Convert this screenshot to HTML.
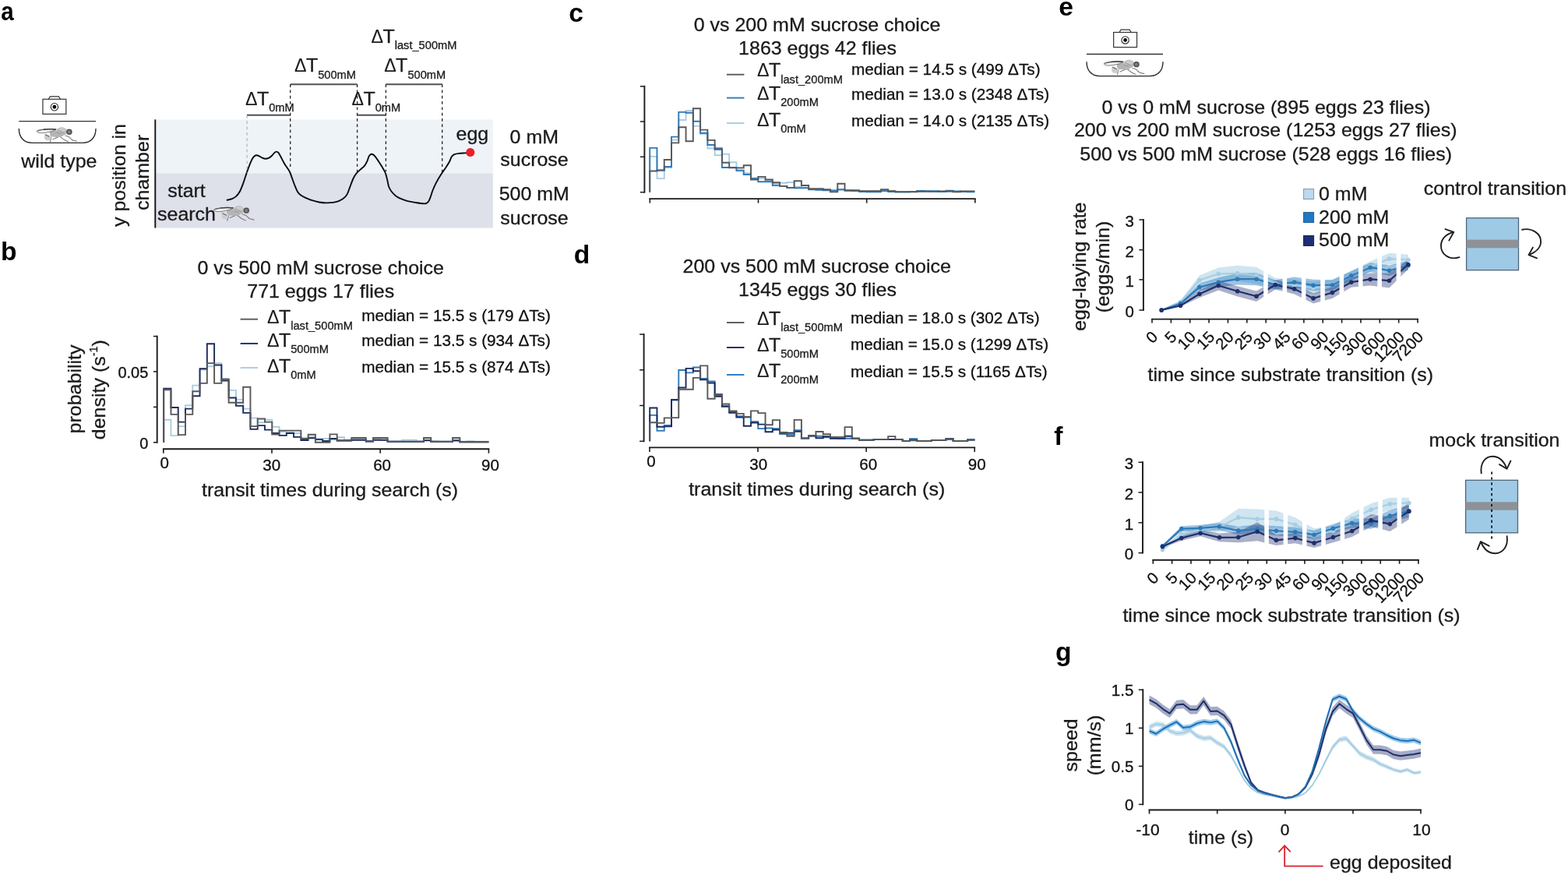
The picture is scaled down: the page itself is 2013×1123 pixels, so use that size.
<!DOCTYPE html>
<html lang="en">
<head>
<meta charset="utf-8">
<title>Figure: transit times, egg-laying rate and speed</title>
<style>
html,body{margin:0;padding:0;background:#fff;}
body{width:2013px;height:1123px;overflow:hidden;}
svg{display:block;font-family:"Liberation Sans", sans-serif;}
</style>
</head>
<body>
<svg width="2013" height="1123" viewBox="0 0 2013 1123">
<rect width="2013" height="1123" fill="#ffffff"/>
<text transform="translate(1.30 26.40) scale(0.88 1)" font-size="33.6" font-weight="bold" fill="#000">a</text>
<text transform="translate(0.90 333.90) scale(1.0 1)" font-size="33.6" font-weight="bold" fill="#000">b</text>
<text transform="translate(730.30 28.00) scale(1.0 1)" font-size="33.6" font-weight="bold" fill="#000">c</text>
<text transform="translate(736.80 337.70) scale(1.0 1)" font-size="33.6" font-weight="bold" fill="#000">d</text>
<text transform="translate(1359.20 19.50) scale(1.0 1)" font-size="33.6" font-weight="bold" fill="#000">e</text>
<text transform="translate(1353.20 570.70) scale(1.0 1)" font-size="33.6" font-weight="bold" fill="#000">f</text>
<text transform="translate(1355.00 847.90) scale(1.0 1)" font-size="33.6" font-weight="bold" fill="#000">g</text>
<rect x="54.95" y="127.30" width="29.90" height="19.10" fill="#fff" stroke="#333" stroke-width="1.2"/>
<path d="M62.30 127.30 L64.40 123.90 L75.40 123.90 L77.50 127.30" stroke="#333" stroke-width="1.2" fill="none"/>
<circle cx="69.90" cy="137.23" r="4.70" fill="#fff" stroke="#2a2a2a" stroke-width="1.1"/>
<circle cx="69.90" cy="137.23" r="2.40" fill="#000"/>
<line x1="24.30" y1="155.60" x2="123.00" y2="155.60" stroke="#333" stroke-width="1.4"/>
<path d="M24.30 164.90 C24.30 175.90 30.30 183.40 41.30 183.40 L106.00 183.40 C117.00 183.40 123.00 175.90 123.00 164.90" stroke="#2a2a2a" stroke-width="1.4" fill="none"/>
<g transform="translate(79.90 168.10) scale(1.0)" opacity="1.0">
<path d="M4 6 L8.7 7.6 L12.7 11.5 L18.7 13.1 M-3.2 7 L2.8 11.5 L8 13.9 M-5 7.6 L-12 10.6 M-13.9 8 L-15.6 14.3" stroke="#7d7d7d" stroke-width="1.1" fill="none" stroke-linejoin="round" stroke-linecap="round"/>
<path d="M-22.5 4.5 C-20 3.5 -16 5 -14.5 7.5 C-13.5 10 -15 12.2 -18.5 12.4 C-21.5 12.4 -23 10.5 -23 8 Z" fill="#cdcdcd"/>
<path d="M-22 4.6 L-16.5 7.4" stroke="#555" stroke-width="1" fill="none"/>
<path d="M-16 0.5 C-11 -1 -6 -1 -2 1 L1 6.5 C-4 8.5 -9 8 -14.5 7 C-16 5 -16.5 2.5 -16 0.5 Z" fill="#b4b4b6"/>
<ellipse cx="-0.6" cy="0.6" rx="6.8" ry="5.5" fill="#b7b7ba"/>
<ellipse cx="0" cy="-1.6" rx="4.6" ry="2.8" fill="#cacacc"/>
<path d="M-7 2 L-1 4 M-4.5 -0.5 L2 2.5" stroke="#8e8e90" stroke-width="0.8" fill="none"/>
<path d="M-7.5 -2.2 C-15 -3.2 -27 -2.6 -32.6 0 C-33.6 1.3 -30 2.6 -27 2.6 C-23.5 2.7 -19 1.9 -17 1.2 C-13 0.6 -9.5 -0.6 -7.5 -2.2 Z" fill="#f1f1f1" stroke="#5f5f5f" stroke-width="0.8"/>
<path d="M-8 -1.9 C-13 -2.6 -19 -2.5 -24 -1.9" fill="none" stroke="#3d3d3d" stroke-width="1.5"/>
<path d="M-24 -1.9 C-27 -1.6 -30 -1 -32 -0.2" fill="none" stroke="#5a5a5a" stroke-width="1.1"/>
<circle cx="9.1" cy="1.2" r="3.9" fill="#9a9a9e"/>
<circle cx="8.9" cy="1.1" r="2.7" fill="none" stroke="#4c4c50" stroke-width="1.5"/>
<circle cx="8.9" cy="1.1" r="1.4" fill="#7a7a7e"/>
</g>
<text transform="translate(75.90 214.80) scale(1 0.99)" font-size="25" text-anchor="middle" fill="#1a1a1a" stroke="#1a1a1a" stroke-width="0.3">wild type</text>
<rect x="200" y="153.4" width="432.8" height="69.1" fill="#eef3f8"/>
<rect x="200" y="222.5" width="432.8" height="70" fill="#dee0ea"/>
<line x1="199.30" y1="153.40" x2="199.30" y2="292.50" stroke="#111" stroke-width="1.9"/>
<path d="M291.63 256.76 C292.67 256.49 295.95 255.97 297.89 255.15 C299.83 254.33 301.62 253.36 303.26 251.84 C304.90 250.32 306.24 248.79 307.73 246.03 C309.22 243.27 310.71 239.32 312.20 235.30 C313.69 231.27 315.33 225.75 316.67 221.88 C318.01 218.00 319.06 215.02 320.25 212.04 C321.44 209.06 322.78 205.93 323.83 203.99 C324.87 202.05 325.54 201.20 326.51 200.41 C327.48 199.62 328.60 199.25 329.64 199.25 C330.69 199.25 331.65 199.87 332.77 200.41 C333.89 200.95 335.01 201.90 336.35 202.47 C337.69 203.04 339.33 203.78 340.82 203.81 C342.31 203.84 343.95 203.29 345.30 202.65 C346.64 202.01 347.68 201.08 348.87 199.96 C350.07 198.85 351.48 196.83 352.45 195.94 C353.42 195.04 353.87 194.60 354.69 194.60 C355.51 194.60 356.40 194.82 357.37 195.94 C358.34 197.06 359.23 199.00 360.50 201.31 C361.77 203.62 363.48 207.27 364.97 209.80 C366.46 212.34 368.25 214.65 369.45 216.51 C370.64 218.38 371.23 219.05 372.13 220.98 C373.02 222.92 373.77 225.31 374.81 228.14 C375.86 230.97 377.20 235.00 378.39 237.98 C379.58 240.96 380.78 244.02 381.97 246.03 C383.16 248.04 383.91 248.79 385.55 250.05 C387.19 251.32 389.27 252.44 391.81 253.63 C394.34 254.82 397.77 256.24 400.75 257.21 C403.73 258.18 406.71 258.92 409.70 259.45 C412.68 259.97 415.66 260.27 418.64 260.34 C421.62 260.41 424.90 260.27 427.58 259.89 C430.27 259.52 432.50 259.00 434.74 258.10 C436.98 257.21 439.21 255.94 441.00 254.53 C442.79 253.11 444.13 251.92 445.47 249.61 C446.82 247.30 447.70 244.09 449.05 240.66 C450.40 237.23 452.08 232.16 453.58 229.03 C455.08 225.90 456.41 223.89 458.05 221.88 C459.69 219.87 461.78 218.45 463.42 216.96 C465.06 215.47 466.55 214.65 467.89 212.93 C469.23 211.22 470.50 208.76 471.47 206.67 C472.44 204.59 472.81 201.90 473.70 200.41 C474.60 198.92 475.72 197.88 476.83 197.73 C477.95 197.58 478.92 198.03 480.41 199.52 C481.90 201.01 484.14 204.29 485.78 206.67 C487.42 209.06 488.76 211.29 490.25 213.83 C491.74 216.36 493.53 218.90 494.72 221.88 C495.92 224.86 496.66 228.74 497.41 231.72 C498.15 234.70 498.30 237.38 499.19 239.77 C500.09 242.15 501.28 244.09 502.77 246.03 C504.26 247.97 506.20 249.90 508.14 251.40 C510.08 252.89 511.87 253.86 514.40 254.97 C516.94 256.09 520.36 257.31 523.35 258.10 C526.33 258.89 529.31 259.22 532.29 259.71 C535.27 260.21 538.85 260.80 541.23 261.06 C543.62 261.31 545.11 261.65 546.60 261.23 C548.09 260.82 549.14 260.04 550.18 258.55 C551.22 257.06 551.97 254.68 552.86 252.29 C553.76 249.90 554.35 247.22 555.55 244.24 C556.74 241.26 558.23 237.83 560.02 234.40 C561.81 230.97 564.19 226.95 566.28 223.67 C568.37 220.39 570.75 217.41 572.54 214.72 C574.33 212.04 575.82 209.80 577.01 207.57 C578.21 205.33 578.65 202.87 579.70 201.31 C580.74 199.74 581.63 198.92 583.27 198.18 C584.91 197.43 587.15 197.13 589.53 196.83 C591.92 196.54 595.50 196.54 597.58 196.39 C599.67 196.24 601.31 196.01 602.06 195.94" stroke="#0a0a0a" stroke-width="1.9" fill="none" stroke-linecap="round"/>
<circle cx="603.8" cy="195.5" r="5.5" fill="#ea1f27"/>
<line x1="317.00" y1="147.70" x2="372.80" y2="147.70" stroke="#505050" stroke-width="1.9"/>
<line x1="372.80" y1="108.20" x2="458.50" y2="108.20" stroke="#505050" stroke-width="1.9"/>
<line x1="458.50" y1="147.70" x2="495.30" y2="147.70" stroke="#505050" stroke-width="1.9"/>
<line x1="495.30" y1="108.20" x2="567.90" y2="108.20" stroke="#505050" stroke-width="1.9"/>
<line x1="317.10" y1="148.00" x2="317.10" y2="222.00" stroke="#a8adb3" stroke-width="1.1" stroke-dasharray="3.7 3.6"/>
<line x1="372.70" y1="108.20" x2="372.70" y2="217.00" stroke="#222" stroke-width="1.3" stroke-dasharray="3.7 3.6"/>
<line x1="458.60" y1="108.20" x2="458.60" y2="220.00" stroke="#222" stroke-width="1.3" stroke-dasharray="3.7 3.6"/>
<line x1="495.40" y1="108.20" x2="495.40" y2="220.00" stroke="#222" stroke-width="1.3" stroke-dasharray="3.7 3.6"/>
<line x1="567.70" y1="108.20" x2="567.70" y2="221.00" stroke="#222" stroke-width="1.3" stroke-dasharray="3.7 3.6"/>
<text transform="translate(476.50 54.70) scale(1 0.99)" font-size="25" fill="#1a1a1a" stroke="#1a1a1a" stroke-width="0.3"><tspan font-size="23.25" stroke-width="0.05">Δ</tspan><tspan dx="-0.6">T</tspan><tspan font-size="14.65" dy="8.2">last_500mM</tspan></text>
<text transform="translate(378.00 92.40) scale(1 0.99)" font-size="25" fill="#1a1a1a" stroke="#1a1a1a" stroke-width="0.3"><tspan font-size="23.25" stroke-width="0.05">Δ</tspan><tspan dx="-0.6">T</tspan><tspan font-size="14.65" dy="8.2">500mM</tspan></text>
<text transform="translate(493.20 92.40) scale(1 0.99)" font-size="25" fill="#1a1a1a" stroke="#1a1a1a" stroke-width="0.3"><tspan font-size="23.25" stroke-width="0.05">Δ</tspan><tspan dx="-0.6">T</tspan><tspan font-size="14.65" dy="8.2">500mM</tspan></text>
<text transform="translate(315.00 134.80) scale(1 0.99)" font-size="25" fill="#1a1a1a" stroke="#1a1a1a" stroke-width="0.3"><tspan font-size="23.25" stroke-width="0.05">Δ</tspan><tspan dx="-0.6">T</tspan><tspan font-size="14.65" dy="8.2">0mM</tspan></text>
<text transform="translate(451.50 134.80) scale(1 0.99)" font-size="25" fill="#1a1a1a" stroke="#1a1a1a" stroke-width="0.3"><tspan font-size="23.25" stroke-width="0.05">Δ</tspan><tspan dx="-0.6">T</tspan><tspan font-size="14.65" dy="8.2">0mM</tspan></text>
<text transform="translate(160.60 291.00) rotate(-90) scale(1 0.99)" font-size="25" fill="#1a1a1a" stroke="#1a1a1a" stroke-width="0.3">y position in</text>
<text transform="translate(190.50 270.00) rotate(-90) scale(1 0.99)" font-size="25" fill="#1a1a1a" stroke="#1a1a1a" stroke-width="0.3">chamber</text>
<text transform="translate(215.20 252.60) scale(1 0.99)" font-size="25" fill="#1a1a1a" stroke="#1a1a1a" stroke-width="0.3">start</text>
<text transform="translate(202.00 282.80) scale(1 0.99)" font-size="25" fill="#1a1a1a" stroke="#1a1a1a" stroke-width="0.3">search</text>
<g transform="translate(307.30 269.00) scale(1.0)" opacity="1.0">
<path d="M4 6 L8.7 7.6 L12.7 11.5 L18.7 13.1 M-3.2 7 L2.8 11.5 L8 13.9 M-5 7.6 L-12 10.6 M-13.9 8 L-15.6 14.3" stroke="#7d7d7d" stroke-width="1.1" fill="none" stroke-linejoin="round" stroke-linecap="round"/>
<path d="M-22.5 4.5 C-20 3.5 -16 5 -14.5 7.5 C-13.5 10 -15 12.2 -18.5 12.4 C-21.5 12.4 -23 10.5 -23 8 Z" fill="#cdcdcd"/>
<path d="M-22 4.6 L-16.5 7.4" stroke="#555" stroke-width="1" fill="none"/>
<path d="M-16 0.5 C-11 -1 -6 -1 -2 1 L1 6.5 C-4 8.5 -9 8 -14.5 7 C-16 5 -16.5 2.5 -16 0.5 Z" fill="#b4b4b6"/>
<ellipse cx="-0.6" cy="0.6" rx="6.8" ry="5.5" fill="#b7b7ba"/>
<ellipse cx="0" cy="-1.6" rx="4.6" ry="2.8" fill="#cacacc"/>
<path d="M-7 2 L-1 4 M-4.5 -0.5 L2 2.5" stroke="#8e8e90" stroke-width="0.8" fill="none"/>
<path d="M-7.5 -2.2 C-15 -3.2 -27 -2.6 -32.6 0 C-33.6 1.3 -30 2.6 -27 2.6 C-23.5 2.7 -19 1.9 -17 1.2 C-13 0.6 -9.5 -0.6 -7.5 -2.2 Z" fill="#f1f1f1" stroke="#5f5f5f" stroke-width="0.8"/>
<path d="M-8 -1.9 C-13 -2.6 -19 -2.5 -24 -1.9" fill="none" stroke="#3d3d3d" stroke-width="1.5"/>
<path d="M-24 -1.9 C-27 -1.6 -30 -1 -32 -0.2" fill="none" stroke="#5a5a5a" stroke-width="1.1"/>
<circle cx="9.1" cy="1.2" r="3.9" fill="#9a9a9e"/>
<circle cx="8.9" cy="1.1" r="2.7" fill="none" stroke="#4c4c50" stroke-width="1.5"/>
<circle cx="8.9" cy="1.1" r="1.4" fill="#7a7a7e"/>
</g>
<text transform="translate(585.50 179.90) scale(1 0.99)" font-size="25" fill="#1a1a1a" stroke="#1a1a1a" stroke-width="0.3">egg</text>
<text transform="translate(685.80 183.60) scale(1 0.99)" font-size="25" text-anchor="middle" fill="#1a1a1a" stroke="#1a1a1a" stroke-width="0.3">0 mM</text>
<text transform="translate(686.00 213.30) scale(1 0.99)" font-size="25" text-anchor="middle" fill="#1a1a1a" stroke="#1a1a1a" stroke-width="0.3">sucrose</text>
<text transform="translate(685.80 257.20) scale(1 0.99)" font-size="25" text-anchor="middle" fill="#1a1a1a" stroke="#1a1a1a" stroke-width="0.3">500 mM</text>
<text transform="translate(686.00 287.50) scale(1 0.99)" font-size="25" text-anchor="middle" fill="#1a1a1a" stroke="#1a1a1a" stroke-width="0.3">sucrose</text>
<text transform="translate(411.70 351.60) scale(1 0.99)" font-size="25" text-anchor="middle" fill="#1a1a1a" stroke="#1a1a1a" stroke-width="0.3">0 vs 500 mM sucrose choice</text>
<text transform="translate(411.70 381.80) scale(1 0.99)" font-size="25" text-anchor="middle" fill="#1a1a1a" stroke="#1a1a1a" stroke-width="0.3">771 eggs 17 flies</text>
<path d="M210.20 567.80 V538.82 H219.47 V559.11 H228.74 V547.10 H238.01 V520.19 H247.28 V494.66 H256.56 V474.65 H265.83 V470.23 H275.10 V466.09 H284.37 V487.07 H293.64 V500.87 H302.91 V512.87 H312.18 V524.60 H321.45 V536.47 H330.72 V542.27 H340.00 V538.82 H349.27 V547.79 H358.54 V554.00 H367.81 V554.69 H377.08 V556.07 H386.35 V562.28 H395.62 V560.80 H404.89 V563.00 H414.16 V563.00 H423.44 V564.40 H432.71 V561.30 H441.98 V564.80 H451.25 V563.80 H460.52 V563.80 H469.79 V565.80 H479.06 V563.80 H488.33 V564.80 H497.60 V566.30 H506.88 V566.30 H516.15 V564.80 H525.42 V564.80 H534.69 V566.30 H543.96 V564.80 H553.23 V566.30 H562.50 V566.80 H571.77 V566.80 H581.04 V566.30 H590.32 V566.80 H599.59 V566.30 H608.86 V566.80 H618.13 V566.80 H627.40" stroke="#a9cde3" stroke-width="1.9" fill="none" stroke-linejoin="miter"/>
<path d="M210.20 567.80 V498.80 H219.47 V522.95 H228.74 V541.58 H238.01 V524.60 H247.28 V508.18 H256.56 V473.27 H265.83 V441.25 H275.10 V468.43 H284.37 V488.45 H293.64 V510.53 H302.91 V520.88 H312.18 V529.85 H321.45 V550.83 H330.72 V546.13 H340.00 V551.65 H349.27 V556.07 H358.54 V558.83 H367.81 V556.07 H377.08 V560.90 H386.35 V565.04 H395.62 V562.30 H404.89 V564.10 H414.16 V566.00 H423.44 V563.00 H432.71 V565.30 H441.98 V565.30 H451.25 V564.80 H460.52 V564.80 H469.79 V566.30 H479.06 V564.80 H488.33 V564.80 H497.60 V566.60 H506.88 V566.80 H516.15 V566.80 H525.42 V566.80 H534.69 V566.80 H543.96 V565.30 H553.23 V566.80 H562.50 V566.80 H571.77 V566.80 H581.04 V565.30 H590.32 V567.30 H599.59 V567.30 H608.86 V567.30 H618.13 V567.30 H627.40" stroke="#1c2a5e" stroke-width="1.9" fill="none" stroke-linejoin="miter"/>
<path d="M210.20 567.80 V500.18 H219.47 V531.92 H228.74 V558.14 H238.01 V531.92 H247.28 V502.25 H256.56 V491.90 H265.83 V466.09 H275.10 V491.90 H284.37 V486.38 H293.64 V516.74 H302.91 V516.74 H312.18 V496.73 H321.45 V547.10 H330.72 V537.44 H340.00 V541.58 H349.27 V557.45 H358.54 V552.62 H367.81 V552.62 H377.08 V552.62 H386.35 V562.97 H395.62 V557.80 H404.89 V567.80 H414.16 V567.80 H423.44 V557.40 H432.71 V565.80 H441.98 V565.80 H451.25 V562.00 H460.52 V562.00 H469.79 V566.80 H479.06 V562.00 H488.33 V562.00 H497.60 V567.00 H506.88 V567.00 H516.15 V567.00 H525.42 V567.00 H534.69 V567.00 H543.96 V562.00 H553.23 V567.00 H562.50 V567.00 H571.77 V567.00 H581.04 V562.00 H590.32 V567.30 H599.59 V567.30 H608.86 V567.30 H618.13 V567.30 H627.40" stroke="#585858" stroke-width="1.9" fill="none" stroke-linejoin="miter"/>
<line x1="201.70" y1="430.65" x2="201.70" y2="568.75" stroke="#1a1a1a" stroke-width="1.9"/>
<line x1="196.90" y1="431.60" x2="201.70" y2="431.60" stroke="#1a1a1a" stroke-width="1.5"/>
<line x1="196.90" y1="476.90" x2="201.70" y2="476.90" stroke="#1a1a1a" stroke-width="1.5"/>
<line x1="196.90" y1="522.40" x2="201.70" y2="522.40" stroke="#1a1a1a" stroke-width="1.5"/>
<line x1="196.90" y1="567.80" x2="201.70" y2="567.80" stroke="#1a1a1a" stroke-width="1.5"/>
<line x1="208.85" y1="576.20" x2="628.35" y2="576.20" stroke="#1a1a1a" stroke-width="1.9"/>
<line x1="209.80" y1="576.20" x2="209.80" y2="581.70" stroke="#1a1a1a" stroke-width="1.6"/>
<line x1="349.00" y1="576.20" x2="349.00" y2="581.70" stroke="#1a1a1a" stroke-width="1.6"/>
<line x1="488.20" y1="576.20" x2="488.20" y2="581.70" stroke="#1a1a1a" stroke-width="1.6"/>
<line x1="627.40" y1="576.20" x2="627.40" y2="581.70" stroke="#1a1a1a" stroke-width="1.6"/>
<text transform="translate(190.30 485.00) scale(1 0.99)" font-size="20.0" text-anchor="end" fill="#111" stroke="#111" stroke-width="0.3">0.05</text>
<text transform="translate(190.30 575.90) scale(1 0.99)" font-size="20.0" text-anchor="end" fill="#111" stroke="#111" stroke-width="0.3">0</text>
<text transform="translate(211.20 600.80) scale(1 0.99)" font-size="20.6" text-anchor="middle" fill="#111" stroke="#111" stroke-width="0.3">0</text>
<text transform="translate(348.80 604.30) scale(1 0.99)" font-size="20.6" text-anchor="middle" fill="#111" stroke="#111" stroke-width="0.3">30</text>
<text transform="translate(490.60 604.30) scale(1 0.99)" font-size="20.6" text-anchor="middle" fill="#111" stroke="#111" stroke-width="0.3">60</text>
<text transform="translate(629.40 604.30) scale(1 0.99)" font-size="20.6" text-anchor="middle" fill="#111" stroke="#111" stroke-width="0.3">90</text>
<text transform="translate(423.60 637.20) scale(1 0.99)" font-size="25" text-anchor="middle" fill="#1a1a1a" stroke="#1a1a1a" stroke-width="0.3">transit times during search (s)</text>
<text transform="translate(103.60 556.40) rotate(-90) scale(1 0.99)" font-size="25" fill="#1a1a1a" stroke="#1a1a1a" stroke-width="0.3">probability</text>
<text transform="translate(134.7 564.2) rotate(-90) scale(1 0.99)" font-size="25" fill="#1a1a1a" stroke="#1a1a1a" stroke-width="0.3">density (s<tspan font-size="14.5" dy="-10">-1</tspan><tspan dy="10">)</tspan></text>
<line x1="308.60" y1="409.70" x2="331.00" y2="409.70" stroke="#585858" stroke-width="1.9"/>
<text transform="translate(343.00 415.20) scale(1 0.99)" font-size="25" fill="#1a1a1a" stroke="#1a1a1a" stroke-width="0.3"><tspan font-size="23.25" stroke-width="0.05">Δ</tspan><tspan dx="-0.6">T</tspan><tspan font-size="14.65" dy="8.2">last_500mM</tspan></text>
<text transform="translate(464.30 411.50) scale(1 0.99)" font-size="20.75" fill="#111" stroke="#111" stroke-width="0.3">median = 15.5 s (179 ΔTs)</text>
<line x1="308.60" y1="440.90" x2="331.00" y2="440.90" stroke="#1c2a5e" stroke-width="1.9"/>
<text transform="translate(343.00 444.60) scale(1 0.99)" font-size="25" fill="#1a1a1a" stroke="#1a1a1a" stroke-width="0.3"><tspan font-size="23.25" stroke-width="0.05">Δ</tspan><tspan dx="-0.6">T</tspan><tspan font-size="14.65" dy="8.2">500mM</tspan></text>
<text transform="translate(464.30 443.90) scale(1 0.99)" font-size="20.75" fill="#111" stroke="#111" stroke-width="0.3">median = 13.5 s (934 ΔTs)</text>
<line x1="308.60" y1="472.00" x2="331.00" y2="472.00" stroke="#a9cde3" stroke-width="1.9"/>
<text transform="translate(343.00 478.30) scale(1 0.99)" font-size="25" fill="#1a1a1a" stroke="#1a1a1a" stroke-width="0.3"><tspan font-size="23.25" stroke-width="0.05">Δ</tspan><tspan dx="-0.6">T</tspan><tspan font-size="14.65" dy="8.2">0mM</tspan></text>
<text transform="translate(464.30 477.60) scale(1 0.99)" font-size="20.75" fill="#111" stroke="#111" stroke-width="0.3">median = 15.5 s (874 ΔTs)</text>
<text transform="translate(1049.00 40.00) scale(1 0.99)" font-size="25" text-anchor="middle" fill="#1a1a1a" stroke="#1a1a1a" stroke-width="0.3">0 vs 200 mM sucrose choice</text>
<text transform="translate(1049.50 69.50) scale(1 0.99)" font-size="25" text-anchor="middle" fill="#1a1a1a" stroke="#1a1a1a" stroke-width="0.3">1863 eggs 42 flies</text>
<path d="M834.20 246.70 V200.88 H843.47 V229.17 H852.74 V215.37 H862.01 V179.49 H871.28 V153.96 H880.56 V141.95 H889.83 V161.83 H899.10 V169.83 H908.37 V190.53 H917.64 V199.23 H926.91 V197.71 H936.18 V208.20 H945.45 V217.44 H954.72 V222.27 H964.00 V228.48 H973.27 V229.17 H982.54 V231.93 H991.81 V236.07 H1001.08 V234.69 H1010.35 V234.00 H1019.62 V239.70 H1028.89 V240.70 H1038.16 V242.90 H1047.44 V242.90 H1056.71 V243.70 H1065.98 V243.70 H1075.25 V243.50 H1084.52 V244.10 H1093.79 V244.70 H1103.06 V245.20 H1112.33 V245.50 H1121.60 V245.50 H1130.88 V244.70 H1140.15 V244.70 H1149.42 V245.90 H1158.69 V245.90 H1167.96 V245.90 H1177.23 V245.70 H1186.50 V245.70 H1195.77 V245.70 H1205.04 V245.70 H1214.32 V245.70 H1223.59 V245.90 H1232.86 V245.70 H1242.13 V245.70 H1251.40" stroke="#a9cde3" stroke-width="1.9" fill="none" stroke-linejoin="miter"/>
<path d="M834.20 246.70 V189.84 H843.47 V218.82 H852.74 V213.99 H862.01 V175.63 H871.28 V143.88 H880.56 V144.71 H889.83 V155.75 H899.10 V171.21 H908.37 V185.98 H917.64 V190.26 H926.91 V214.96 H936.18 V214.96 H945.45 V219.10 H954.72 V223.93 H964.00 V229.17 H973.27 V233.31 H982.54 V233.31 H991.81 V238.14 H1001.08 V238.83 H1010.35 V240.90 H1019.62 V241.20 H1028.89 V241.20 H1038.16 V243.30 H1047.44 V243.70 H1056.71 V244.30 H1065.98 V244.70 H1075.25 V243.30 H1084.52 V244.70 H1093.79 V245.10 H1103.06 V246.10 H1112.33 V246.30 H1121.60 V246.30 H1130.88 V245.10 H1140.15 V246.10 H1149.42 V246.50 H1158.69 V246.50 H1167.96 V246.30 H1177.23 V244.90 H1186.50 V245.10 H1195.77 V245.30 H1205.04 V246.10 H1214.32 V244.70 H1223.59 V245.50 H1232.86 V246.10 H1242.13 V246.30 H1251.40" stroke="#2d7aba" stroke-width="1.9" fill="none" stroke-linejoin="miter"/>
<path d="M834.20 246.70 V219.51 H843.47 V218.41 H852.74 V205.02 H862.01 V183.35 H871.28 V163.21 H880.56 V181.28 H889.83 V139.19 H899.10 V166.66 H908.37 V179.90 H917.64 V191.91 H926.91 V208.75 H936.18 V215.37 H945.45 V215.37 H954.72 V212.20 H964.00 V230.55 H973.27 V226.83 H982.54 V230.55 H991.81 V234.28 H1001.08 V238.83 H1010.35 V240.90 H1019.62 V232.20 H1028.89 V238.00 H1038.16 V242.20 H1047.44 V242.20 H1056.71 V243.20 H1065.98 V246.40 H1075.25 V235.70 H1084.52 V244.20 H1093.79 V244.20 H1103.06 V245.20 H1112.33 V245.20 H1121.60 V245.20 H1130.88 V243.20 H1140.15 V245.20 H1149.42 V246.10 H1158.69 V246.10 H1167.96 V246.10 H1177.23 V245.70 H1186.50 V245.70 H1195.77 V245.90 H1205.04 V245.50 H1214.32 V245.50 H1223.59 V246.40 H1232.86 V245.40 H1242.13 V245.40 H1251.40" stroke="#585858" stroke-width="1.9" fill="none" stroke-linejoin="miter"/>
<line x1="827.40" y1="109.85" x2="827.40" y2="247.65" stroke="#1a1a1a" stroke-width="1.9"/>
<line x1="821.90" y1="110.80" x2="827.40" y2="110.80" stroke="#1a1a1a" stroke-width="1.5"/>
<line x1="821.90" y1="156.00" x2="827.40" y2="156.00" stroke="#1a1a1a" stroke-width="1.5"/>
<line x1="821.90" y1="201.30" x2="827.40" y2="201.30" stroke="#1a1a1a" stroke-width="1.5"/>
<line x1="821.90" y1="246.70" x2="827.40" y2="246.70" stroke="#1a1a1a" stroke-width="1.5"/>
<line x1="833.35" y1="255.10" x2="1252.75" y2="255.10" stroke="#1a1a1a" stroke-width="1.9"/>
<line x1="834.30" y1="255.10" x2="834.30" y2="260.60" stroke="#1a1a1a" stroke-width="1.6"/>
<line x1="973.50" y1="255.10" x2="973.50" y2="260.60" stroke="#1a1a1a" stroke-width="1.6"/>
<line x1="1112.70" y1="255.10" x2="1112.70" y2="260.60" stroke="#1a1a1a" stroke-width="1.6"/>
<line x1="1251.80" y1="255.10" x2="1251.80" y2="260.60" stroke="#1a1a1a" stroke-width="1.6"/>
<line x1="933.00" y1="95.70" x2="955.40" y2="95.70" stroke="#585858" stroke-width="1.9"/>
<text transform="translate(972.00 98.40) scale(1 0.99)" font-size="25" fill="#1a1a1a" stroke="#1a1a1a" stroke-width="0.3"><tspan font-size="23.25" stroke-width="0.05">Δ</tspan><tspan dx="-0.6">T</tspan><tspan font-size="14.65" dy="8.2">last_200mM</tspan></text>
<text transform="translate(1093.00 95.70) scale(1 0.99)" font-size="20.75" fill="#111" stroke="#111" stroke-width="0.3">median = 14.5 s (499 ΔTs)</text>
<line x1="933.00" y1="125.60" x2="955.40" y2="125.60" stroke="#2d7aba" stroke-width="1.9"/>
<text transform="translate(972.00 128.00) scale(1 0.99)" font-size="25" fill="#1a1a1a" stroke="#1a1a1a" stroke-width="0.3"><tspan font-size="23.25" stroke-width="0.05">Δ</tspan><tspan dx="-0.6">T</tspan><tspan font-size="14.65" dy="8.2">200mM</tspan></text>
<text transform="translate(1093.00 128.00) scale(1 0.99)" font-size="20.75" fill="#111" stroke="#111" stroke-width="0.3">median = 13.0 s (2348 ΔTs)</text>
<line x1="933.00" y1="158.00" x2="955.40" y2="158.00" stroke="#a9cde3" stroke-width="1.9"/>
<text transform="translate(972.00 161.60) scale(1 0.99)" font-size="25" fill="#1a1a1a" stroke="#1a1a1a" stroke-width="0.3"><tspan font-size="23.25" stroke-width="0.05">Δ</tspan><tspan dx="-0.6">T</tspan><tspan font-size="14.65" dy="8.2">0mM</tspan></text>
<text transform="translate(1093.00 161.60) scale(1 0.99)" font-size="20.75" fill="#111" stroke="#111" stroke-width="0.3">median = 14.0 s (2135 ΔTs)</text>
<text transform="translate(1048.70 349.80) scale(1 0.99)" font-size="25" text-anchor="middle" fill="#1a1a1a" stroke="#1a1a1a" stroke-width="0.3">200 vs 500 mM sucrose choice</text>
<text transform="translate(1049.50 379.70) scale(1 0.99)" font-size="25" text-anchor="middle" fill="#1a1a1a" stroke="#1a1a1a" stroke-width="0.3">1345 eggs 30 flies</text>
<path d="M834.20 566.30 V532.90 H843.47 V552.91 H852.74 V546.01 H862.01 V513.58 H871.28 V474.94 H880.56 V478.39 H889.83 V471.49 H899.10 V485.98 H908.37 V489.43 H917.64 V507.37 H926.91 V520.48 H936.18 V528.07 H945.45 V534.28 H954.72 V535.66 H964.00 V541.18 H973.27 V550.15 H982.54 V549.46 H991.81 V550.15 H1001.08 V557.05 H1010.35 V557.74 H1019.62 V552.30 H1028.89 V562.60 H1038.16 V559.80 H1047.44 V559.80 H1056.71 V561.30 H1065.98 V562.30 H1075.25 V562.80 H1084.52 V562.80 H1093.79 V562.80 H1103.06 V564.50 H1112.33 V564.50 H1121.60 V563.90 H1130.88 V563.90 H1140.15 V563.90 H1149.42 V563.90 H1158.69 V565.90 H1167.96 V563.30 H1177.23 V565.90 H1186.50 V565.90 H1195.77 V565.10 H1205.04 V565.10 H1214.32 V563.30 H1223.59 V565.90 H1232.86 V565.90 H1242.13 V564.50 H1251.40" stroke="#2d7aba" stroke-width="1.9" fill="none" stroke-linejoin="miter"/>
<path d="M834.20 566.30 V523.52 H843.47 V547.81 H852.74 V547.39 H862.01 V512.89 H871.28 V497.43 H880.56 V472.87 H889.83 V476.32 H899.10 V487.36 H908.37 V491.50 H917.64 V508.75 H926.91 V521.86 H936.18 V529.73 H945.45 V535.66 H954.72 V546.70 H964.00 V542.56 H973.27 V544.63 H982.54 V554.29 H991.81 V551.53 H1001.08 V555.67 H1010.35 V555.67 H1019.62 V553.80 H1028.89 V562.60 H1038.16 V559.30 H1047.44 V562.30 H1056.71 V560.30 H1065.98 V562.80 H1075.25 V562.80 H1084.52 V559.80 H1093.79 V562.80 H1103.06 V565.10 H1112.33 V565.10 H1121.60 V563.90 H1130.88 V563.90 H1140.15 V563.90 H1149.42 V563.90 H1158.69 V565.90 H1167.96 V564.80 H1177.23 V565.90 H1186.50 V565.90 H1195.77 V565.10 H1205.04 V565.10 H1214.32 V563.30 H1223.59 V565.90 H1232.86 V565.90 H1242.13 V564.50 H1251.40" stroke="#1c2a5e" stroke-width="1.9" fill="none" stroke-linejoin="miter"/>
<path d="M834.20 566.30 V542.29 H843.47 V542.84 H852.74 V536.35 H862.01 V536.08 H871.28 V499.78 H880.56 V499.78 H889.83 V484.88 H899.10 V469.42 H908.37 V511.79 H917.64 V505.99 H926.91 V518.41 H936.18 V527.38 H945.45 V530.83 H954.72 V534.97 H964.00 V527.38 H973.27 V530.14 H982.54 V545.32 H991.81 V539.11 H1001.08 V554.98 H1010.35 V559.81 H1019.62 V538.90 H1028.89 V562.10 H1038.16 V559.30 H1047.44 V554.00 H1056.71 V557.30 H1065.98 V560.90 H1075.25 V560.90 H1084.52 V548.10 H1093.79 V562.80 H1103.06 V565.10 H1112.33 V565.10 H1121.60 V563.90 H1130.88 V563.90 H1140.15 V560.10 H1149.42 V563.90 H1158.69 V565.90 H1167.96 V565.30 H1177.23 V565.90 H1186.50 V565.90 H1195.77 V565.10 H1205.04 V565.10 H1214.32 V563.80 H1223.59 V565.90 H1232.86 V565.90 H1242.13 V564.50 H1251.40" stroke="#585858" stroke-width="1.9" fill="none" stroke-linejoin="miter"/>
<line x1="826.60" y1="428.15" x2="826.60" y2="567.25" stroke="#1a1a1a" stroke-width="1.9"/>
<line x1="821.10" y1="429.10" x2="826.60" y2="429.10" stroke="#1a1a1a" stroke-width="1.5"/>
<line x1="821.10" y1="474.80" x2="826.60" y2="474.80" stroke="#1a1a1a" stroke-width="1.5"/>
<line x1="821.10" y1="520.50" x2="826.60" y2="520.50" stroke="#1a1a1a" stroke-width="1.5"/>
<line x1="821.10" y1="566.30" x2="826.60" y2="566.30" stroke="#1a1a1a" stroke-width="1.5"/>
<line x1="833.05" y1="574.40" x2="1252.15" y2="574.40" stroke="#1a1a1a" stroke-width="1.9"/>
<line x1="834.00" y1="574.40" x2="834.00" y2="579.90" stroke="#1a1a1a" stroke-width="1.6"/>
<line x1="973.00" y1="574.40" x2="973.00" y2="579.90" stroke="#1a1a1a" stroke-width="1.6"/>
<line x1="1112.10" y1="574.40" x2="1112.10" y2="579.90" stroke="#1a1a1a" stroke-width="1.6"/>
<line x1="1251.20" y1="574.40" x2="1251.20" y2="579.90" stroke="#1a1a1a" stroke-width="1.6"/>
<text transform="translate(836.10 598.60) scale(1 0.99)" font-size="20.6" text-anchor="middle" fill="#111" stroke="#111" stroke-width="0.3">0</text>
<text transform="translate(973.70 602.80) scale(1 0.99)" font-size="20.6" text-anchor="middle" fill="#111" stroke="#111" stroke-width="0.3">30</text>
<text transform="translate(1114.80 602.80) scale(1 0.99)" font-size="20.6" text-anchor="middle" fill="#111" stroke="#111" stroke-width="0.3">60</text>
<text transform="translate(1254.30 602.80) scale(1 0.99)" font-size="20.6" text-anchor="middle" fill="#111" stroke="#111" stroke-width="0.3">90</text>
<text transform="translate(1048.70 635.80) scale(1 0.99)" font-size="25" text-anchor="middle" fill="#1a1a1a" stroke="#1a1a1a" stroke-width="0.3">transit times during search (s)</text>
<line x1="933.00" y1="414.00" x2="955.40" y2="414.00" stroke="#585858" stroke-width="1.9"/>
<text transform="translate(972.00 417.00) scale(1 0.99)" font-size="25" fill="#1a1a1a" stroke="#1a1a1a" stroke-width="0.3"><tspan font-size="23.25" stroke-width="0.05">Δ</tspan><tspan dx="-0.6">T</tspan><tspan font-size="14.65" dy="8.2">last_500mM</tspan></text>
<text transform="translate(1092.00 414.80) scale(1 0.99)" font-size="20.75" fill="#111" stroke="#111" stroke-width="0.3">median = 18.0 s (302 ΔTs)</text>
<line x1="933.00" y1="446.00" x2="955.40" y2="446.00" stroke="#1c2a5e" stroke-width="1.9"/>
<text transform="translate(972.00 450.80) scale(1 0.99)" font-size="25" fill="#1a1a1a" stroke="#1a1a1a" stroke-width="0.3"><tspan font-size="23.25" stroke-width="0.05">Δ</tspan><tspan dx="-0.6">T</tspan><tspan font-size="14.65" dy="8.2">500mM</tspan></text>
<text transform="translate(1092.00 449.00) scale(1 0.99)" font-size="20.75" fill="#111" stroke="#111" stroke-width="0.3">median = 15.0 s (1299 ΔTs)</text>
<line x1="933.00" y1="481.00" x2="955.40" y2="481.00" stroke="#2d7aba" stroke-width="1.9"/>
<text transform="translate(972.00 483.60) scale(1 0.99)" font-size="25" fill="#1a1a1a" stroke="#1a1a1a" stroke-width="0.3"><tspan font-size="23.25" stroke-width="0.05">Δ</tspan><tspan dx="-0.6">T</tspan><tspan font-size="14.65" dy="8.2">200mM</tspan></text>
<text transform="translate(1092.00 483.60) scale(1 0.99)" font-size="20.75" fill="#111" stroke="#111" stroke-width="0.3">median = 15.5 s (1165 ΔTs)</text>
<rect x="1429.65" y="41.50" width="29.90" height="19.10" fill="#fff" stroke="#333" stroke-width="1.2"/>
<path d="M1437.00 41.50 L1439.10 38.10 L1450.10 38.10 L1452.20 41.50" stroke="#333" stroke-width="1.2" fill="none"/>
<circle cx="1444.60" cy="51.43" r="4.70" fill="#fff" stroke="#2a2a2a" stroke-width="1.1"/>
<circle cx="1444.60" cy="51.43" r="2.40" fill="#000"/>
<line x1="1395.00" y1="69.50" x2="1493.00" y2="69.50" stroke="#333" stroke-width="1.4"/>
<path d="M1395.00 79.20 C1395.00 90.20 1401.00 97.60 1412.00 97.60 L1476.00 97.60 C1487.00 97.60 1493.00 90.20 1493.00 79.20" stroke="#2a2a2a" stroke-width="1.4" fill="none"/>
<g transform="translate(1450.00 81.50) scale(1.0)" opacity="1.0">
<path d="M4 6 L8.7 7.6 L12.7 11.5 L18.7 13.1 M-3.2 7 L2.8 11.5 L8 13.9 M-5 7.6 L-12 10.6 M-13.9 8 L-15.6 14.3" stroke="#7d7d7d" stroke-width="1.1" fill="none" stroke-linejoin="round" stroke-linecap="round"/>
<path d="M-22.5 4.5 C-20 3.5 -16 5 -14.5 7.5 C-13.5 10 -15 12.2 -18.5 12.4 C-21.5 12.4 -23 10.5 -23 8 Z" fill="#cdcdcd"/>
<path d="M-22 4.6 L-16.5 7.4" stroke="#555" stroke-width="1" fill="none"/>
<path d="M-16 0.5 C-11 -1 -6 -1 -2 1 L1 6.5 C-4 8.5 -9 8 -14.5 7 C-16 5 -16.5 2.5 -16 0.5 Z" fill="#b4b4b6"/>
<ellipse cx="-0.6" cy="0.6" rx="6.8" ry="5.5" fill="#b7b7ba"/>
<ellipse cx="0" cy="-1.6" rx="4.6" ry="2.8" fill="#cacacc"/>
<path d="M-7 2 L-1 4 M-4.5 -0.5 L2 2.5" stroke="#8e8e90" stroke-width="0.8" fill="none"/>
<path d="M-7.5 -2.2 C-15 -3.2 -27 -2.6 -32.6 0 C-33.6 1.3 -30 2.6 -27 2.6 C-23.5 2.7 -19 1.9 -17 1.2 C-13 0.6 -9.5 -0.6 -7.5 -2.2 Z" fill="#f1f1f1" stroke="#5f5f5f" stroke-width="0.8"/>
<path d="M-8 -1.9 C-13 -2.6 -19 -2.5 -24 -1.9" fill="none" stroke="#3d3d3d" stroke-width="1.5"/>
<path d="M-24 -1.9 C-27 -1.6 -30 -1 -32 -0.2" fill="none" stroke="#5a5a5a" stroke-width="1.1"/>
<circle cx="9.1" cy="1.2" r="3.9" fill="#9a9a9e"/>
<circle cx="8.9" cy="1.1" r="2.7" fill="none" stroke="#4c4c50" stroke-width="1.5"/>
<circle cx="8.9" cy="1.1" r="1.4" fill="#7a7a7e"/>
</g>
<text transform="translate(1625.50 146.00) scale(1 0.99)" font-size="25" text-anchor="middle" fill="#1a1a1a" stroke="#1a1a1a" stroke-width="0.3">0 vs 0 mM sucrose (895 eggs 23 flies)</text>
<text transform="translate(1624.70 175.00) scale(1 0.99)" font-size="25" text-anchor="middle" fill="#1a1a1a" stroke="#1a1a1a" stroke-width="0.3">200 vs 200 mM sucrose (1253 eggs 27 flies)</text>
<text transform="translate(1625.10 205.60) scale(1 0.99)" font-size="25" text-anchor="middle" fill="#1a1a1a" stroke="#1a1a1a" stroke-width="0.3">500 vs 500 mM sucrose (528 eggs 16 flies)</text>
<rect x="1673.6" y="242.60" width="13" height="12.9" fill="#bbdaef" stroke="#8496a2" stroke-width="1"/>
<text transform="translate(1693.00 256.50) scale(1 0.99)" font-size="25" fill="#1a1a1a" stroke="#1a1a1a" stroke-width="0.3">0 mM</text>
<rect x="1673.6" y="272.60" width="13" height="12.9" fill="#2277c4" stroke="#1d5c97" stroke-width="1"/>
<text transform="translate(1693.00 286.50) scale(1 0.99)" font-size="25" fill="#1a1a1a" stroke="#1a1a1a" stroke-width="0.3">200 mM</text>
<rect x="1673.6" y="302.50" width="13" height="12.9" fill="#1f2f74" stroke="#161f4c" stroke-width="1"/>
<text transform="translate(1693.00 316.40) scale(1 0.99)" font-size="25" fill="#1a1a1a" stroke="#1a1a1a" stroke-width="0.3">500 mM</text>
<text transform="translate(1919.50 250.00) scale(1 0.99)" font-size="25" text-anchor="middle" fill="#1a1a1a" stroke="#1a1a1a" stroke-width="0.3">control transition</text>
<path d="M1491.18 397.59 L1515.54 385.56 L1539.90 353.50 L1564.26 343.48 L1588.62 340.81 L1612.98 342.81 L1637.34 356.84 L1661.70 358.84 L1686.06 361.52 L1710.42 358.84 L1734.78 347.49 L1759.14 335.46 L1783.50 324.78 L1807.86 326.78 L1807.86 340.14 L1783.50 339.47 L1759.14 348.82 L1734.78 360.85 L1710.42 373.54 L1686.06 377.55 L1661.70 373.54 L1637.34 370.20 L1612.98 364.19 L1588.62 360.85 L1564.26 359.51 L1539.90 365.52 L1515.54 389.57 L1491.18 398.39 Z" fill="rgba(168,207,230,0.55)" stroke="none"/>
<path d="M1491.18 397.59 L1515.54 388.24 L1539.90 363.92 L1564.26 356.17 L1588.62 350.83 L1612.98 350.16 L1637.34 359.51 L1661.70 355.50 L1686.06 358.84 L1710.42 359.25 L1734.78 347.89 L1759.14 337.20 L1783.50 340.54 L1807.86 334.80 L1807.86 346.82 L1783.50 353.90 L1759.14 349.23 L1734.78 359.91 L1710.42 372.61 L1686.06 373.54 L1661.70 368.86 L1637.34 371.54 L1612.98 366.19 L1588.62 365.52 L1564.26 368.20 L1539.90 373.27 L1515.54 390.91 L1491.18 398.39 Z" fill="rgba(43,123,189,0.45)" stroke="none"/>
<path d="M1491.18 397.59 L1515.54 390.91 L1539.90 372.61 L1564.26 360.45 L1588.62 367.13 L1612.98 373.54 L1637.34 359.51 L1661.70 364.19 L1686.06 376.21 L1710.42 368.20 L1734.78 355.50 L1759.14 350.43 L1783.50 350.83 L1807.86 333.46 L1807.86 345.48 L1783.50 369.53 L1759.14 366.46 L1734.78 368.86 L1710.42 382.89 L1686.06 389.57 L1661.70 377.55 L1637.34 371.54 L1612.98 386.90 L1588.62 380.49 L1564.26 372.47 L1539.90 381.96 L1515.54 393.58 L1491.18 398.39 Z" fill="rgba(31,47,107,0.38)" stroke="none"/>
<path d="M1491.18 397.99 L1515.54 387.57 L1539.90 359.51 L1564.26 351.50 L1588.62 350.83 L1612.98 353.50 L1637.34 363.52 L1661.70 366.19 L1686.06 369.53 L1710.42 366.19 L1734.78 354.17 L1759.14 342.14 L1783.50 332.12 L1807.86 333.46" stroke="#a9cde3" stroke-width="2.2" fill="none" stroke-linejoin="round"/>
<circle cx="1491.18" cy="397.99" r="2.8" fill="#a9cde3"/>
<circle cx="1515.54" cy="387.57" r="2.8" fill="#a9cde3"/>
<circle cx="1539.90" cy="359.51" r="2.8" fill="#a9cde3"/>
<circle cx="1564.26" cy="351.50" r="2.8" fill="#a9cde3"/>
<circle cx="1588.62" cy="350.83" r="2.8" fill="#a9cde3"/>
<circle cx="1612.98" cy="353.50" r="2.8" fill="#a9cde3"/>
<circle cx="1637.34" cy="363.52" r="2.8" fill="#a9cde3"/>
<circle cx="1661.70" cy="366.19" r="2.8" fill="#a9cde3"/>
<circle cx="1686.06" cy="369.53" r="2.8" fill="#a9cde3"/>
<circle cx="1710.42" cy="366.19" r="2.8" fill="#a9cde3"/>
<circle cx="1734.78" cy="354.17" r="2.8" fill="#a9cde3"/>
<circle cx="1759.14" cy="342.14" r="2.8" fill="#a9cde3"/>
<circle cx="1783.50" cy="332.12" r="2.8" fill="#a9cde3"/>
<circle cx="1807.86" cy="333.46" r="2.8" fill="#a9cde3"/>
<path d="M1491.18 397.99 L1515.54 389.57 L1539.90 368.60 L1564.26 362.18 L1588.62 358.18 L1612.98 358.18 L1637.34 365.52 L1661.70 362.18 L1686.06 366.19 L1710.42 365.93 L1734.78 353.90 L1759.14 343.21 L1783.50 347.22 L1807.86 340.81" stroke="#2d7aba" stroke-width="2.2" fill="none" stroke-linejoin="round"/>
<circle cx="1491.18" cy="397.99" r="2.8" fill="#2d7aba"/>
<circle cx="1515.54" cy="389.57" r="2.8" fill="#2d7aba"/>
<circle cx="1539.90" cy="368.60" r="2.8" fill="#2d7aba"/>
<circle cx="1564.26" cy="362.18" r="2.8" fill="#2d7aba"/>
<circle cx="1588.62" cy="358.18" r="2.8" fill="#2d7aba"/>
<circle cx="1612.98" cy="358.18" r="2.8" fill="#2d7aba"/>
<circle cx="1637.34" cy="365.52" r="2.8" fill="#2d7aba"/>
<circle cx="1661.70" cy="362.18" r="2.8" fill="#2d7aba"/>
<circle cx="1686.06" cy="366.19" r="2.8" fill="#2d7aba"/>
<circle cx="1710.42" cy="365.93" r="2.8" fill="#2d7aba"/>
<circle cx="1734.78" cy="353.90" r="2.8" fill="#2d7aba"/>
<circle cx="1759.14" cy="343.21" r="2.8" fill="#2d7aba"/>
<circle cx="1783.50" cy="347.22" r="2.8" fill="#2d7aba"/>
<circle cx="1807.86" cy="340.81" r="2.8" fill="#2d7aba"/>
<path d="M1491.18 397.99 L1515.54 392.24 L1539.90 377.28 L1564.26 366.46 L1588.62 373.81 L1612.98 380.22 L1637.34 365.52 L1661.70 370.87 L1686.06 382.89 L1710.42 375.54 L1734.78 362.18 L1759.14 358.44 L1783.50 360.18 L1807.86 339.47" stroke="#1f2f6b" stroke-width="2.2" fill="none" stroke-linejoin="round"/>
<circle cx="1491.18" cy="397.99" r="2.8" fill="#1f2f6b"/>
<circle cx="1515.54" cy="392.24" r="2.8" fill="#1f2f6b"/>
<circle cx="1539.90" cy="377.28" r="2.8" fill="#1f2f6b"/>
<circle cx="1564.26" cy="366.46" r="2.8" fill="#1f2f6b"/>
<circle cx="1588.62" cy="373.81" r="2.8" fill="#1f2f6b"/>
<circle cx="1612.98" cy="380.22" r="2.8" fill="#1f2f6b"/>
<circle cx="1637.34" cy="365.52" r="2.8" fill="#1f2f6b"/>
<circle cx="1661.70" cy="370.87" r="2.8" fill="#1f2f6b"/>
<circle cx="1686.06" cy="382.89" r="2.8" fill="#1f2f6b"/>
<circle cx="1710.42" cy="375.54" r="2.8" fill="#1f2f6b"/>
<circle cx="1734.78" cy="362.18" r="2.8" fill="#1f2f6b"/>
<circle cx="1759.14" cy="358.44" r="2.8" fill="#1f2f6b"/>
<circle cx="1783.50" cy="360.18" r="2.8" fill="#1f2f6b"/>
<circle cx="1807.86" cy="339.47" r="2.8" fill="#1f2f6b"/>
<rect x="1622.16" y="339.81" width="5.6" height="50.09" fill="#fff"/>
<rect x="1646.52" y="352.50" width="5.6" height="28.04" fill="#fff"/>
<rect x="1670.88" y="352.50" width="5.6" height="40.07" fill="#fff"/>
<rect x="1695.24" y="355.84" width="5.6" height="36.73" fill="#fff"/>
<rect x="1719.60" y="344.49" width="5.6" height="41.40" fill="#fff"/>
<rect x="1743.96" y="332.46" width="5.6" height="39.40" fill="#fff"/>
<rect x="1768.32" y="321.78" width="5.6" height="50.76" fill="#fff"/>
<rect x="1792.68" y="321.78" width="5.6" height="50.76" fill="#fff"/>
<line x1="1467.90" y1="281.05" x2="1467.90" y2="398.95" stroke="#1a1a1a" stroke-width="1.9"/>
<line x1="1462.40" y1="282.00" x2="1467.90" y2="282.00" stroke="#1a1a1a" stroke-width="1.5"/>
<line x1="1462.40" y1="320.70" x2="1467.90" y2="320.70" stroke="#1a1a1a" stroke-width="1.5"/>
<line x1="1462.40" y1="358.90" x2="1467.90" y2="358.90" stroke="#1a1a1a" stroke-width="1.5"/>
<line x1="1462.40" y1="398.00" x2="1467.90" y2="398.00" stroke="#1a1a1a" stroke-width="1.5"/>
<line x1="1478.05" y1="409.60" x2="1820.99" y2="409.60" stroke="#1a1a1a" stroke-width="1.9"/>
<line x1="1479.00" y1="409.60" x2="1479.00" y2="414.60" stroke="#1a1a1a" stroke-width="1.6"/>
<line x1="1503.36" y1="409.60" x2="1503.36" y2="414.60" stroke="#1a1a1a" stroke-width="1.6"/>
<line x1="1527.72" y1="409.60" x2="1527.72" y2="414.60" stroke="#1a1a1a" stroke-width="1.6"/>
<line x1="1552.08" y1="409.60" x2="1552.08" y2="414.60" stroke="#1a1a1a" stroke-width="1.6"/>
<line x1="1576.44" y1="409.60" x2="1576.44" y2="414.60" stroke="#1a1a1a" stroke-width="1.6"/>
<line x1="1600.80" y1="409.60" x2="1600.80" y2="414.60" stroke="#1a1a1a" stroke-width="1.6"/>
<line x1="1625.16" y1="409.60" x2="1625.16" y2="414.60" stroke="#1a1a1a" stroke-width="1.6"/>
<line x1="1649.52" y1="409.60" x2="1649.52" y2="414.60" stroke="#1a1a1a" stroke-width="1.6"/>
<line x1="1673.88" y1="409.60" x2="1673.88" y2="414.60" stroke="#1a1a1a" stroke-width="1.6"/>
<line x1="1698.24" y1="409.60" x2="1698.24" y2="414.60" stroke="#1a1a1a" stroke-width="1.6"/>
<line x1="1722.60" y1="409.60" x2="1722.60" y2="414.60" stroke="#1a1a1a" stroke-width="1.6"/>
<line x1="1746.96" y1="409.60" x2="1746.96" y2="414.60" stroke="#1a1a1a" stroke-width="1.6"/>
<line x1="1771.32" y1="409.60" x2="1771.32" y2="414.60" stroke="#1a1a1a" stroke-width="1.6"/>
<line x1="1795.68" y1="409.60" x2="1795.68" y2="414.60" stroke="#1a1a1a" stroke-width="1.6"/>
<line x1="1820.04" y1="409.60" x2="1820.04" y2="414.60" stroke="#1a1a1a" stroke-width="1.6"/>
<text transform="translate(1455.90 290.90) scale(1 0.99)" font-size="20.4" text-anchor="end" fill="#111" stroke="#111" stroke-width="0.3">3</text>
<text transform="translate(1455.90 329.60) scale(1 0.99)" font-size="20.4" text-anchor="end" fill="#111" stroke="#111" stroke-width="0.3">2</text>
<text transform="translate(1455.90 367.80) scale(1 0.99)" font-size="20.4" text-anchor="end" fill="#111" stroke="#111" stroke-width="0.3">1</text>
<text transform="translate(1455.90 406.90) scale(1 0.99)" font-size="20.4" text-anchor="end" fill="#111" stroke="#111" stroke-width="0.3">0</text>
<text transform="translate(1487.60 433.70) rotate(-45) scale(1 0.99)" font-size="20.6" text-anchor="end" fill="#111" stroke="#111" stroke-width="0.3">0</text>
<text transform="translate(1511.96 433.70) rotate(-45) scale(1 0.99)" font-size="20.6" text-anchor="end" fill="#111" stroke="#111" stroke-width="0.3">5</text>
<text transform="translate(1536.32 433.70) rotate(-45) scale(1 0.99)" font-size="20.6" text-anchor="end" fill="#111" stroke="#111" stroke-width="0.3">10</text>
<text transform="translate(1560.68 433.70) rotate(-45) scale(1 0.99)" font-size="20.6" text-anchor="end" fill="#111" stroke="#111" stroke-width="0.3">15</text>
<text transform="translate(1585.04 433.70) rotate(-45) scale(1 0.99)" font-size="20.6" text-anchor="end" fill="#111" stroke="#111" stroke-width="0.3">20</text>
<text transform="translate(1609.40 433.70) rotate(-45) scale(1 0.99)" font-size="20.6" text-anchor="end" fill="#111" stroke="#111" stroke-width="0.3">25</text>
<text transform="translate(1633.76 433.70) rotate(-45) scale(1 0.99)" font-size="20.6" text-anchor="end" fill="#111" stroke="#111" stroke-width="0.3">30</text>
<text transform="translate(1658.12 433.70) rotate(-45) scale(1 0.99)" font-size="20.6" text-anchor="end" fill="#111" stroke="#111" stroke-width="0.3">45</text>
<text transform="translate(1682.48 433.70) rotate(-45) scale(1 0.99)" font-size="20.6" text-anchor="end" fill="#111" stroke="#111" stroke-width="0.3">60</text>
<text transform="translate(1706.84 433.70) rotate(-45) scale(1 0.99)" font-size="20.6" text-anchor="end" fill="#111" stroke="#111" stroke-width="0.3">90</text>
<text transform="translate(1731.20 433.70) rotate(-45) scale(1 0.99)" font-size="20.6" text-anchor="end" fill="#111" stroke="#111" stroke-width="0.3">150</text>
<text transform="translate(1755.56 433.70) rotate(-45) scale(1 0.99)" font-size="20.6" text-anchor="end" fill="#111" stroke="#111" stroke-width="0.3">300</text>
<text transform="translate(1779.92 433.70) rotate(-45) scale(1 0.99)" font-size="20.6" text-anchor="end" fill="#111" stroke="#111" stroke-width="0.3">600</text>
<text transform="translate(1804.28 433.70) rotate(-45) scale(1 0.99)" font-size="20.6" text-anchor="end" fill="#111" stroke="#111" stroke-width="0.3">1200</text>
<text transform="translate(1828.64 433.70) rotate(-45) scale(1 0.99)" font-size="20.6" text-anchor="end" fill="#111" stroke="#111" stroke-width="0.3">7200</text>
<text transform="translate(1656.80 488.50) scale(1 0.99)" font-size="25" text-anchor="middle" fill="#1a1a1a" stroke="#1a1a1a" stroke-width="0.3">time since substrate transition (s)</text>
<text transform="translate(1394.20 424.80) rotate(-90) scale(1 0.99)" font-size="25" fill="#1a1a1a" stroke="#1a1a1a" stroke-width="0.3">egg-laying rate</text>
<text transform="translate(1423.70 401.60) rotate(-90) scale(1 0.99)" font-size="25" fill="#1a1a1a" stroke="#1a1a1a" stroke-width="0.3">(eggs/min)</text>
<rect x="1882.60" y="279.80" width="66.90" height="66.90" fill="#9fcae6" stroke="#4d6478" stroke-width="1.3"/>
<rect x="1882.60" y="307.60" width="66.90" height="10.70" fill="#8e9196"/>
<path d="M1873.5 330.2 C1860 334.5 1849.5 326 1850 314.6 C1850.3 307 1856 300.5 1865.5 298" stroke="#1f1f1f" stroke-width="1.9" fill="none" stroke-linecap="round" stroke-linejoin="round"/>
<path d="M1855.5 294.1 L1866.3 297.8 L1860.3 308.6" stroke="#1f1f1f" stroke-width="1.9" fill="none" stroke-linecap="round" stroke-linejoin="round"/>
<path d="M1954.1 294.7 C1967 292 1978.5 300 1978.1 310.5 C1978 317.5 1972 323.5 1963.3 326.8" stroke="#1f1f1f" stroke-width="1.9" fill="none" stroke-linecap="round" stroke-linejoin="round"/>
<path d="M1967.9 317.6 L1962.5 327.2 L1973 331.4" stroke="#1f1f1f" stroke-width="1.9" fill="none" stroke-linecap="round" stroke-linejoin="round"/>
<text transform="translate(1918.50 573.30) scale(1 0.99)" font-size="25" text-anchor="middle" fill="#1a1a1a" stroke="#1a1a1a" stroke-width="0.3">mock transition</text>
<path d="M1492.46 704.52 L1516.79 681.54 L1541.12 674.86 L1565.45 669.51 L1589.78 652.81 L1614.12 653.48 L1638.44 655.48 L1662.77 664.17 L1687.11 678.20 L1711.43 674.86 L1735.76 658.16 L1760.09 646.13 L1784.42 638.78 L1808.75 638.78 L1808.75 652.14 L1784.42 654.82 L1760.09 662.16 L1735.76 672.85 L1711.43 688.22 L1687.11 692.89 L1662.77 682.87 L1638.44 676.86 L1614.12 678.86 L1589.78 675.52 L1565.45 682.87 L1541.12 685.54 L1516.79 689.55 L1492.46 706.65 Z" fill="rgba(168,207,230,0.55)" stroke="none"/>
<path d="M1492.46 699.84 L1516.79 675.26 L1541.12 673.79 L1565.45 671.25 L1589.78 675.79 L1614.12 673.52 L1638.44 675.26 L1662.77 676.86 L1687.11 680.87 L1711.43 672.85 L1735.76 665.50 L1760.09 665.50 L1784.42 654.82 L1808.75 648.14 L1808.75 664.17 L1784.42 669.51 L1760.09 678.86 L1735.76 677.53 L1711.43 683.54 L1687.11 691.56 L1662.77 688.88 L1638.44 687.28 L1614.12 684.21 L1589.78 686.48 L1565.45 680.60 L1541.12 681.80 L1516.79 681.94 L1492.46 701.98 Z" fill="rgba(43,123,189,0.45)" stroke="none"/>
<path d="M1492.46 700.51 L1516.79 687.28 L1541.12 680.20 L1565.45 684.48 L1589.78 682.87 L1614.12 670.18 L1638.44 686.61 L1662.77 683.94 L1687.11 690.89 L1711.43 682.87 L1735.76 674.19 L1760.09 659.89 L1784.42 663.23 L1808.75 645.46 L1808.75 666.84 L1784.42 681.94 L1760.09 675.93 L1735.76 688.88 L1711.43 696.23 L1687.11 702.91 L1662.77 697.30 L1638.44 699.97 L1614.12 694.23 L1589.78 696.23 L1565.45 695.16 L1541.12 688.22 L1516.79 693.96 L1492.46 702.65 Z" fill="rgba(31,47,107,0.38)" stroke="none"/>
<path d="M1492.46 705.58 L1516.79 685.54 L1541.12 680.20 L1565.45 676.19 L1589.78 664.17 L1614.12 666.17 L1638.44 666.17 L1662.77 673.52 L1687.11 685.54 L1711.43 681.54 L1735.76 665.50 L1760.09 654.15 L1784.42 646.80 L1808.75 645.46" stroke="#a9cde3" stroke-width="2.2" fill="none" stroke-linejoin="round"/>
<circle cx="1492.46" cy="705.58" r="2.8" fill="#a9cde3"/>
<circle cx="1516.79" cy="685.54" r="2.8" fill="#a9cde3"/>
<circle cx="1541.12" cy="680.20" r="2.8" fill="#a9cde3"/>
<circle cx="1565.45" cy="676.19" r="2.8" fill="#a9cde3"/>
<circle cx="1589.78" cy="664.17" r="2.8" fill="#a9cde3"/>
<circle cx="1614.12" cy="666.17" r="2.8" fill="#a9cde3"/>
<circle cx="1638.44" cy="666.17" r="2.8" fill="#a9cde3"/>
<circle cx="1662.77" cy="673.52" r="2.8" fill="#a9cde3"/>
<circle cx="1687.11" cy="685.54" r="2.8" fill="#a9cde3"/>
<circle cx="1711.43" cy="681.54" r="2.8" fill="#a9cde3"/>
<circle cx="1735.76" cy="665.50" r="2.8" fill="#a9cde3"/>
<circle cx="1760.09" cy="654.15" r="2.8" fill="#a9cde3"/>
<circle cx="1784.42" cy="646.80" r="2.8" fill="#a9cde3"/>
<circle cx="1808.75" cy="645.46" r="2.8" fill="#a9cde3"/>
<path d="M1492.46 700.91 L1516.79 678.60 L1541.12 677.80 L1565.45 675.93 L1589.78 681.14 L1614.12 678.86 L1638.44 681.27 L1662.77 682.87 L1687.11 686.21 L1711.43 678.20 L1735.76 671.52 L1760.09 672.18 L1784.42 662.16 L1808.75 656.15" stroke="#2d7aba" stroke-width="2.2" fill="none" stroke-linejoin="round"/>
<circle cx="1492.46" cy="700.91" r="2.8" fill="#2d7aba"/>
<circle cx="1516.79" cy="678.60" r="2.8" fill="#2d7aba"/>
<circle cx="1541.12" cy="677.80" r="2.8" fill="#2d7aba"/>
<circle cx="1565.45" cy="675.93" r="2.8" fill="#2d7aba"/>
<circle cx="1589.78" cy="681.14" r="2.8" fill="#2d7aba"/>
<circle cx="1614.12" cy="678.86" r="2.8" fill="#2d7aba"/>
<circle cx="1638.44" cy="681.27" r="2.8" fill="#2d7aba"/>
<circle cx="1662.77" cy="682.87" r="2.8" fill="#2d7aba"/>
<circle cx="1687.11" cy="686.21" r="2.8" fill="#2d7aba"/>
<circle cx="1711.43" cy="678.20" r="2.8" fill="#2d7aba"/>
<circle cx="1735.76" cy="671.52" r="2.8" fill="#2d7aba"/>
<circle cx="1760.09" cy="672.18" r="2.8" fill="#2d7aba"/>
<circle cx="1784.42" cy="662.16" r="2.8" fill="#2d7aba"/>
<circle cx="1808.75" cy="656.15" r="2.8" fill="#2d7aba"/>
<path d="M1492.46 701.58 L1516.79 690.62 L1541.12 684.21 L1565.45 689.82 L1589.78 689.55 L1614.12 682.20 L1638.44 693.29 L1662.77 690.62 L1687.11 696.90 L1711.43 689.55 L1735.76 681.54 L1760.09 667.91 L1784.42 672.59 L1808.75 656.15" stroke="#1f2f6b" stroke-width="2.2" fill="none" stroke-linejoin="round"/>
<circle cx="1492.46" cy="701.58" r="2.8" fill="#1f2f6b"/>
<circle cx="1516.79" cy="690.62" r="2.8" fill="#1f2f6b"/>
<circle cx="1541.12" cy="684.21" r="2.8" fill="#1f2f6b"/>
<circle cx="1565.45" cy="689.82" r="2.8" fill="#1f2f6b"/>
<circle cx="1589.78" cy="689.55" r="2.8" fill="#1f2f6b"/>
<circle cx="1614.12" cy="682.20" r="2.8" fill="#1f2f6b"/>
<circle cx="1638.44" cy="693.29" r="2.8" fill="#1f2f6b"/>
<circle cx="1662.77" cy="690.62" r="2.8" fill="#1f2f6b"/>
<circle cx="1687.11" cy="696.90" r="2.8" fill="#1f2f6b"/>
<circle cx="1711.43" cy="689.55" r="2.8" fill="#1f2f6b"/>
<circle cx="1735.76" cy="681.54" r="2.8" fill="#1f2f6b"/>
<circle cx="1760.09" cy="667.91" r="2.8" fill="#1f2f6b"/>
<circle cx="1784.42" cy="672.59" r="2.8" fill="#1f2f6b"/>
<circle cx="1808.75" cy="656.15" r="2.8" fill="#1f2f6b"/>
<rect x="1623.28" y="650.48" width="5.6" height="52.49" fill="#fff"/>
<rect x="1647.61" y="652.48" width="5.6" height="50.49" fill="#fff"/>
<rect x="1671.94" y="661.17" width="5.6" height="44.74" fill="#fff"/>
<rect x="1696.27" y="669.85" width="5.6" height="36.06" fill="#fff"/>
<rect x="1720.60" y="655.16" width="5.6" height="44.08" fill="#fff"/>
<rect x="1744.93" y="643.13" width="5.6" height="48.75" fill="#fff"/>
<rect x="1769.26" y="635.78" width="5.6" height="49.15" fill="#fff"/>
<rect x="1793.59" y="635.78" width="5.6" height="49.15" fill="#fff"/>
<line x1="1467.00" y1="592.35" x2="1467.00" y2="710.55" stroke="#1a1a1a" stroke-width="1.9"/>
<line x1="1461.50" y1="593.30" x2="1467.00" y2="593.30" stroke="#1a1a1a" stroke-width="1.5"/>
<line x1="1461.50" y1="632.00" x2="1467.00" y2="632.00" stroke="#1a1a1a" stroke-width="1.5"/>
<line x1="1461.50" y1="670.80" x2="1467.00" y2="670.80" stroke="#1a1a1a" stroke-width="1.5"/>
<line x1="1461.50" y1="709.60" x2="1467.00" y2="709.60" stroke="#1a1a1a" stroke-width="1.5"/>
<line x1="1479.35" y1="718.70" x2="1821.87" y2="718.70" stroke="#1a1a1a" stroke-width="1.9"/>
<line x1="1480.30" y1="718.70" x2="1480.30" y2="723.70" stroke="#1a1a1a" stroke-width="1.6"/>
<line x1="1504.63" y1="718.70" x2="1504.63" y2="723.70" stroke="#1a1a1a" stroke-width="1.6"/>
<line x1="1528.96" y1="718.70" x2="1528.96" y2="723.70" stroke="#1a1a1a" stroke-width="1.6"/>
<line x1="1553.29" y1="718.70" x2="1553.29" y2="723.70" stroke="#1a1a1a" stroke-width="1.6"/>
<line x1="1577.62" y1="718.70" x2="1577.62" y2="723.70" stroke="#1a1a1a" stroke-width="1.6"/>
<line x1="1601.95" y1="718.70" x2="1601.95" y2="723.70" stroke="#1a1a1a" stroke-width="1.6"/>
<line x1="1626.28" y1="718.70" x2="1626.28" y2="723.70" stroke="#1a1a1a" stroke-width="1.6"/>
<line x1="1650.61" y1="718.70" x2="1650.61" y2="723.70" stroke="#1a1a1a" stroke-width="1.6"/>
<line x1="1674.94" y1="718.70" x2="1674.94" y2="723.70" stroke="#1a1a1a" stroke-width="1.6"/>
<line x1="1699.27" y1="718.70" x2="1699.27" y2="723.70" stroke="#1a1a1a" stroke-width="1.6"/>
<line x1="1723.60" y1="718.70" x2="1723.60" y2="723.70" stroke="#1a1a1a" stroke-width="1.6"/>
<line x1="1747.93" y1="718.70" x2="1747.93" y2="723.70" stroke="#1a1a1a" stroke-width="1.6"/>
<line x1="1772.26" y1="718.70" x2="1772.26" y2="723.70" stroke="#1a1a1a" stroke-width="1.6"/>
<line x1="1796.59" y1="718.70" x2="1796.59" y2="723.70" stroke="#1a1a1a" stroke-width="1.6"/>
<line x1="1820.92" y1="718.70" x2="1820.92" y2="723.70" stroke="#1a1a1a" stroke-width="1.6"/>
<text transform="translate(1455.00 602.00) scale(1 0.99)" font-size="20.4" text-anchor="end" fill="#111" stroke="#111" stroke-width="0.3">3</text>
<text transform="translate(1455.00 640.70) scale(1 0.99)" font-size="20.4" text-anchor="end" fill="#111" stroke="#111" stroke-width="0.3">2</text>
<text transform="translate(1455.00 679.50) scale(1 0.99)" font-size="20.4" text-anchor="end" fill="#111" stroke="#111" stroke-width="0.3">1</text>
<text transform="translate(1455.00 718.30) scale(1 0.99)" font-size="20.4" text-anchor="end" fill="#111" stroke="#111" stroke-width="0.3">0</text>
<text transform="translate(1488.90 742.80) rotate(-45) scale(1 0.99)" font-size="20.6" text-anchor="end" fill="#111" stroke="#111" stroke-width="0.3">0</text>
<text transform="translate(1513.23 742.80) rotate(-45) scale(1 0.99)" font-size="20.6" text-anchor="end" fill="#111" stroke="#111" stroke-width="0.3">5</text>
<text transform="translate(1537.56 742.80) rotate(-45) scale(1 0.99)" font-size="20.6" text-anchor="end" fill="#111" stroke="#111" stroke-width="0.3">10</text>
<text transform="translate(1561.89 742.80) rotate(-45) scale(1 0.99)" font-size="20.6" text-anchor="end" fill="#111" stroke="#111" stroke-width="0.3">15</text>
<text transform="translate(1586.22 742.80) rotate(-45) scale(1 0.99)" font-size="20.6" text-anchor="end" fill="#111" stroke="#111" stroke-width="0.3">20</text>
<text transform="translate(1610.55 742.80) rotate(-45) scale(1 0.99)" font-size="20.6" text-anchor="end" fill="#111" stroke="#111" stroke-width="0.3">25</text>
<text transform="translate(1634.88 742.80) rotate(-45) scale(1 0.99)" font-size="20.6" text-anchor="end" fill="#111" stroke="#111" stroke-width="0.3">30</text>
<text transform="translate(1659.21 742.80) rotate(-45) scale(1 0.99)" font-size="20.6" text-anchor="end" fill="#111" stroke="#111" stroke-width="0.3">45</text>
<text transform="translate(1683.54 742.80) rotate(-45) scale(1 0.99)" font-size="20.6" text-anchor="end" fill="#111" stroke="#111" stroke-width="0.3">60</text>
<text transform="translate(1707.87 742.80) rotate(-45) scale(1 0.99)" font-size="20.6" text-anchor="end" fill="#111" stroke="#111" stroke-width="0.3">90</text>
<text transform="translate(1732.20 742.80) rotate(-45) scale(1 0.99)" font-size="20.6" text-anchor="end" fill="#111" stroke="#111" stroke-width="0.3">150</text>
<text transform="translate(1756.53 742.80) rotate(-45) scale(1 0.99)" font-size="20.6" text-anchor="end" fill="#111" stroke="#111" stroke-width="0.3">300</text>
<text transform="translate(1780.86 742.80) rotate(-45) scale(1 0.99)" font-size="20.6" text-anchor="end" fill="#111" stroke="#111" stroke-width="0.3">600</text>
<text transform="translate(1805.19 742.80) rotate(-45) scale(1 0.99)" font-size="20.6" text-anchor="end" fill="#111" stroke="#111" stroke-width="0.3">1200</text>
<text transform="translate(1829.52 742.80) rotate(-45) scale(1 0.99)" font-size="20.6" text-anchor="end" fill="#111" stroke="#111" stroke-width="0.3">7200</text>
<text transform="translate(1658.00 797.50) scale(1 0.99)" font-size="25" text-anchor="middle" fill="#1a1a1a" stroke="#1a1a1a" stroke-width="0.3">time since mock substrate transition (s)</text>
<rect x="1881.60" y="616.30" width="66.90" height="67.50" fill="#9fcae6" stroke="#4d6478" stroke-width="1.3"/>
<rect x="1881.60" y="644.30" width="66.90" height="10.40" fill="#8e9196"/>
<line x1="1915.10" y1="605.50" x2="1915.10" y2="692.00" stroke="#0d1830" stroke-width="1.8" stroke-dasharray="3.2 3.7"/>
<path d="M1901.7 607.3 C1900 594 1907 585.7 1916.2 585.7 C1924 585.7 1930.5 591.5 1934.2 600.8" stroke="#1f1f1f" stroke-width="1.9" fill="none" stroke-linecap="round" stroke-linejoin="round"/>
<path d="M1925 596.1 L1934.6 601.7 L1939.4 591.6" stroke="#1f1f1f" stroke-width="1.9" fill="none" stroke-linecap="round" stroke-linejoin="round"/>
<path d="M1934.6 688.2 C1936.5 701 1929.5 710.2 1919.4 710.2 C1911.5 710.2 1905 704.5 1901.3 696" stroke="#1f1f1f" stroke-width="1.9" fill="none" stroke-linecap="round" stroke-linejoin="round"/>
<path d="M1896.9 705.1 L1900.9 695.1 L1911.7 700.7" stroke="#1f1f1f" stroke-width="1.9" fill="none" stroke-linecap="round" stroke-linejoin="round"/>
<path d="M1475.54 930.10 L1484.20 926.09 L1493.01 926.90 L1501.67 934.91 L1510.48 938.11 L1519.13 937.31 L1527.95 934.11 L1536.60 941.32 L1545.26 944.52 L1554.07 943.72 L1562.72 950.13 L1571.38 954.94 L1580.19 966.16 L1588.85 982.85 L1597.50 999.73 L1606.15 1010.70 L1614.97 1016.61 L1623.62 1019.04 L1632.44 1020.64 L1641.09 1022.24 L1649.94 1023.85 L1658.59 1023.05 L1667.40 1021.12 L1676.06 1016.61 L1684.71 1006.48 L1693.53 991.29 L1702.18 972.72 L1710.83 955.74 L1719.49 946.13 L1728.30 944.52 L1736.96 954.14 L1745.61 963.76 L1754.42 968.56 L1763.08 971.87 L1771.73 977.78 L1780.54 981.49 L1789.20 985.38 L1797.85 987.91 L1806.67 985.38 L1815.32 989.93 L1823.97 988.75 L1823.97 993.23 L1815.32 994.30 L1806.67 990.20 L1797.85 992.48 L1789.20 990.20 L1780.54 986.71 L1771.73 983.37 L1763.08 978.06 L1754.42 974.96 L1745.61 970.16 L1736.96 960.54 L1728.30 950.92 L1719.49 952.53 L1710.83 962.14 L1702.18 978.82 L1693.53 995.51 L1684.71 1009.16 L1676.06 1018.27 L1667.40 1022.72 L1658.59 1024.65 L1649.94 1025.45 L1641.09 1023.84 L1632.44 1022.24 L1623.62 1020.64 L1614.97 1018.27 L1606.15 1012.96 L1597.50 1003.10 L1588.85 987.92 L1580.19 972.56 L1571.38 961.34 L1562.72 956.53 L1554.07 950.12 L1545.26 950.92 L1536.60 947.72 L1527.95 940.51 L1519.13 943.71 L1510.48 944.51 L1501.67 941.31 L1493.01 933.30 L1484.20 932.49 L1475.54 936.50 Z" fill="rgba(168,207,230,0.6)" stroke="none"/>
<path d="M1475.54 934.71 L1484.20 938.39 L1493.01 932.31 L1501.67 927.50 L1510.48 923.01 L1519.13 930.70 L1527.95 929.42 L1536.60 925.09 L1545.26 922.69 L1554.07 923.97 L1562.72 922.21 L1571.38 930.70 L1580.19 948.33 L1588.85 970.83 L1597.50 992.85 L1606.15 1006.39 L1614.97 1014.01 L1623.62 1017.39 L1632.44 1019.47 L1641.09 1021.39 L1649.94 1023.32 L1658.59 1022.19 L1667.40 1018.19 L1676.06 1008.09 L1684.71 987.77 L1693.53 956.34 L1702.18 922.69 L1710.83 894.16 L1719.49 890.32 L1728.30 893.84 L1736.96 909.07 L1745.61 918.68 L1754.42 925.89 L1763.08 931.98 L1771.73 935.51 L1780.54 940.32 L1789.20 944.32 L1797.85 946.73 L1806.67 947.53 L1815.32 946.41 L1823.97 949.93 L1823.97 956.73 L1815.32 953.21 L1806.67 954.33 L1797.85 953.53 L1789.20 951.12 L1780.54 947.12 L1771.73 942.31 L1763.08 938.78 L1754.42 932.69 L1745.61 925.48 L1736.96 915.87 L1728.30 900.64 L1719.49 897.12 L1710.83 900.96 L1702.18 929.49 L1693.53 963.14 L1684.71 992.62 L1676.06 1010.76 L1667.40 1019.89 L1658.59 1023.89 L1649.94 1025.02 L1641.09 1023.09 L1632.44 1021.17 L1623.62 1019.09 L1614.97 1016.05 L1606.15 1009.25 L1597.50 997.15 L1588.85 977.50 L1580.19 955.13 L1571.38 937.50 L1562.72 929.01 L1554.07 930.77 L1545.26 929.49 L1536.60 931.89 L1527.95 936.22 L1519.13 937.50 L1510.48 929.81 L1501.67 934.30 L1493.01 939.11 L1484.20 945.19 L1475.54 941.51 Z" fill="rgba(90,170,230,0.6)" stroke="none"/>
<path d="M1475.54 892.44 L1484.20 897.25 L1493.01 904.46 L1501.67 910.07 L1510.48 898.86 L1519.13 898.05 L1527.95 905.27 L1536.60 905.27 L1545.26 894.05 L1554.07 907.35 L1562.72 906.87 L1571.38 912.48 L1580.19 923.69 L1588.85 950.94 L1597.50 977.44 L1606.15 1001.97 L1614.97 1012.48 L1623.62 1015.98 L1632.44 1018.44 L1641.09 1020.84 L1649.94 1022.77 L1658.59 1021.64 L1667.40 1017.64 L1676.06 1008.10 L1684.71 989.70 L1693.53 962.16 L1702.18 930.11 L1710.83 907.67 L1719.49 897.73 L1728.30 904.46 L1736.96 910.07 L1745.61 926.90 L1754.42 944.53 L1763.08 956.55 L1771.73 956.55 L1780.54 958.15 L1789.20 962.96 L1797.85 964.56 L1806.67 963.44 L1815.32 962.48 L1823.97 960.55 L1823.97 971.75 L1815.32 973.68 L1806.67 974.64 L1797.85 975.76 L1789.20 974.16 L1780.54 969.35 L1771.73 967.75 L1763.08 967.75 L1754.42 955.73 L1745.61 938.10 L1736.96 921.27 L1728.30 915.66 L1719.49 908.93 L1710.83 918.87 L1702.18 941.31 L1693.53 973.36 L1684.71 997.09 L1676.06 1012.35 L1667.40 1020.44 L1658.59 1024.44 L1649.94 1025.57 L1641.09 1023.64 L1632.44 1021.24 L1623.62 1018.89 L1614.97 1015.98 L1606.15 1007.26 L1597.50 986.92 L1588.85 962.14 L1580.19 934.89 L1571.38 923.68 L1562.72 918.07 L1554.07 918.55 L1545.26 905.25 L1536.60 916.47 L1527.95 916.47 L1519.13 909.25 L1510.48 910.06 L1501.67 921.27 L1493.01 915.66 L1484.20 908.45 L1475.54 903.64 Z" fill="rgba(31,47,107,0.4)" stroke="none"/>
<path d="M1475.54 933.30 L1484.20 929.29 L1493.01 930.10 L1501.67 938.11 L1510.48 941.31 L1519.13 940.51 L1527.95 937.31 L1536.60 944.52 L1545.26 947.72 L1554.07 946.92 L1562.72 953.33 L1571.38 958.14 L1580.19 969.36 L1588.85 985.38 L1597.50 1001.41 L1606.15 1011.83 L1614.97 1017.44 L1623.62 1019.84 L1632.44 1021.44 L1641.09 1023.04 L1649.94 1024.65 L1658.59 1023.85 L1667.40 1021.92 L1676.06 1017.44 L1684.71 1007.82 L1693.53 993.40 L1702.18 975.77 L1710.83 958.94 L1719.49 949.33 L1728.30 947.72 L1736.96 957.34 L1745.61 966.96 L1754.42 971.76 L1763.08 974.97 L1771.73 980.58 L1780.54 984.10 L1789.20 987.79 L1797.85 990.19 L1806.67 987.79 L1815.32 992.12 L1823.97 990.99" stroke="#a4cbe0" stroke-width="1.7" fill="none" stroke-linejoin="round"/>
<path d="M1475.54 898.04 L1484.20 902.85 L1493.01 910.06 L1501.67 915.67 L1510.48 904.46 L1519.13 903.65 L1527.95 910.87 L1536.60 910.87 L1545.26 899.65 L1554.07 912.95 L1562.72 912.47 L1571.38 918.08 L1580.19 929.29 L1588.85 956.54 L1597.50 982.18 L1606.15 1004.62 L1614.97 1014.23 L1623.62 1017.44 L1632.44 1019.84 L1641.09 1022.24 L1649.94 1024.17 L1658.59 1023.04 L1667.40 1019.04 L1676.06 1010.22 L1684.71 993.40 L1693.53 967.76 L1702.18 935.71 L1710.83 913.27 L1719.49 903.33 L1728.30 910.06 L1736.96 915.67 L1745.61 932.50 L1754.42 950.13 L1763.08 962.15 L1771.73 962.15 L1780.54 963.75 L1789.20 968.56 L1797.85 970.16 L1806.67 969.04 L1815.32 968.08 L1823.97 966.15" stroke="#1f2f6b" stroke-width="2.0" fill="none" stroke-linejoin="round"/>
<path d="M1475.54 938.11 L1484.20 941.79 L1493.01 935.71 L1501.67 930.90 L1510.48 926.41 L1519.13 934.10 L1527.95 932.82 L1536.60 928.49 L1545.26 926.09 L1554.07 927.37 L1562.72 925.61 L1571.38 934.10 L1580.19 951.73 L1588.85 974.17 L1597.50 995.00 L1606.15 1007.82 L1614.97 1015.03 L1623.62 1018.24 L1632.44 1020.32 L1641.09 1022.24 L1649.94 1024.17 L1658.59 1023.04 L1667.40 1019.04 L1676.06 1009.42 L1684.71 990.19 L1693.53 959.74 L1702.18 926.09 L1710.83 897.56 L1719.49 893.72 L1728.30 897.24 L1736.96 912.47 L1745.61 922.08 L1754.42 929.29 L1763.08 935.38 L1771.73 938.91 L1780.54 943.72 L1789.20 947.72 L1797.85 950.13 L1806.67 950.93 L1815.32 949.81 L1823.97 953.33" stroke="#1f6fb2" stroke-width="2.0" fill="none" stroke-linejoin="round"/>
<line x1="1467.30" y1="884.35" x2="1467.30" y2="1033.35" stroke="#1a1a1a" stroke-width="1.9"/>
<line x1="1461.80" y1="885.30" x2="1467.30" y2="885.30" stroke="#1a1a1a" stroke-width="1.5"/>
<line x1="1461.80" y1="934.40" x2="1467.30" y2="934.40" stroke="#1a1a1a" stroke-width="1.5"/>
<line x1="1461.80" y1="983.40" x2="1467.30" y2="983.40" stroke="#1a1a1a" stroke-width="1.5"/>
<line x1="1461.80" y1="1032.40" x2="1467.30" y2="1032.40" stroke="#1a1a1a" stroke-width="1.5"/>
<line x1="1474.55" y1="1039.50" x2="1824.95" y2="1039.50" stroke="#1a1a1a" stroke-width="1.9"/>
<line x1="1475.50" y1="1039.50" x2="1475.50" y2="1044.50" stroke="#1a1a1a" stroke-width="1.6"/>
<line x1="1562.70" y1="1039.50" x2="1562.70" y2="1044.50" stroke="#1a1a1a" stroke-width="1.6"/>
<line x1="1649.90" y1="1039.50" x2="1649.90" y2="1044.50" stroke="#1a1a1a" stroke-width="1.6"/>
<line x1="1737.00" y1="1039.50" x2="1737.00" y2="1044.50" stroke="#1a1a1a" stroke-width="1.6"/>
<line x1="1824.00" y1="1039.50" x2="1824.00" y2="1044.50" stroke="#1a1a1a" stroke-width="1.6"/>
<text transform="translate(1455.30 892.90) scale(1 0.99)" font-size="20.5" text-anchor="end" fill="#111" stroke="#111" stroke-width="0.3">1.5</text>
<text transform="translate(1455.30 942.00) scale(1 0.99)" font-size="20.5" text-anchor="end" fill="#111" stroke="#111" stroke-width="0.3">1</text>
<text transform="translate(1455.30 991.00) scale(1 0.99)" font-size="20.5" text-anchor="end" fill="#111" stroke="#111" stroke-width="0.3">0.5</text>
<text transform="translate(1455.30 1040.00) scale(1 0.99)" font-size="20.5" text-anchor="end" fill="#111" stroke="#111" stroke-width="0.3">0</text>
<text transform="translate(1473.50 1072.00) scale(1 0.99)" font-size="21" text-anchor="middle" fill="#111" stroke="#111" stroke-width="0.3">-10</text>
<text transform="translate(1649.50 1072.00) scale(1 0.99)" font-size="21" text-anchor="middle" fill="#111" stroke="#111" stroke-width="0.3">0</text>
<text transform="translate(1825.00 1072.00) scale(1 0.99)" font-size="21" text-anchor="middle" fill="#111" stroke="#111" stroke-width="0.3">10</text>
<text transform="translate(1567.50 1083.00) scale(1 0.99)" font-size="25" text-anchor="middle" fill="#1a1a1a" stroke="#1a1a1a" stroke-width="0.3">time (s)</text>
<text transform="translate(1382.80 990.50) rotate(-90) scale(1 0.99)" font-size="25" fill="#1a1a1a" stroke="#1a1a1a" stroke-width="0.3">speed</text>
<text transform="translate(1413.00 995.50) rotate(-90) scale(1 0.99)" font-size="25" fill="#1a1a1a" stroke="#1a1a1a" stroke-width="0.3">(mm/s)</text>
<path d="M1649.2 1086 V1111.7 H1698.6" stroke="#d8232a" stroke-width="1.8" fill="none"/>
<path d="M1641.5 1093.6 L1649.2 1085.3 L1656.8 1093.3" stroke="#d8232a" stroke-width="1.8" fill="none"/>
<text transform="translate(1707.00 1115.00) scale(1 0.99)" font-size="25" fill="#1a1a1a" stroke="#1a1a1a" stroke-width="0.3">egg deposited</text>
</svg>
</body>
</html>
